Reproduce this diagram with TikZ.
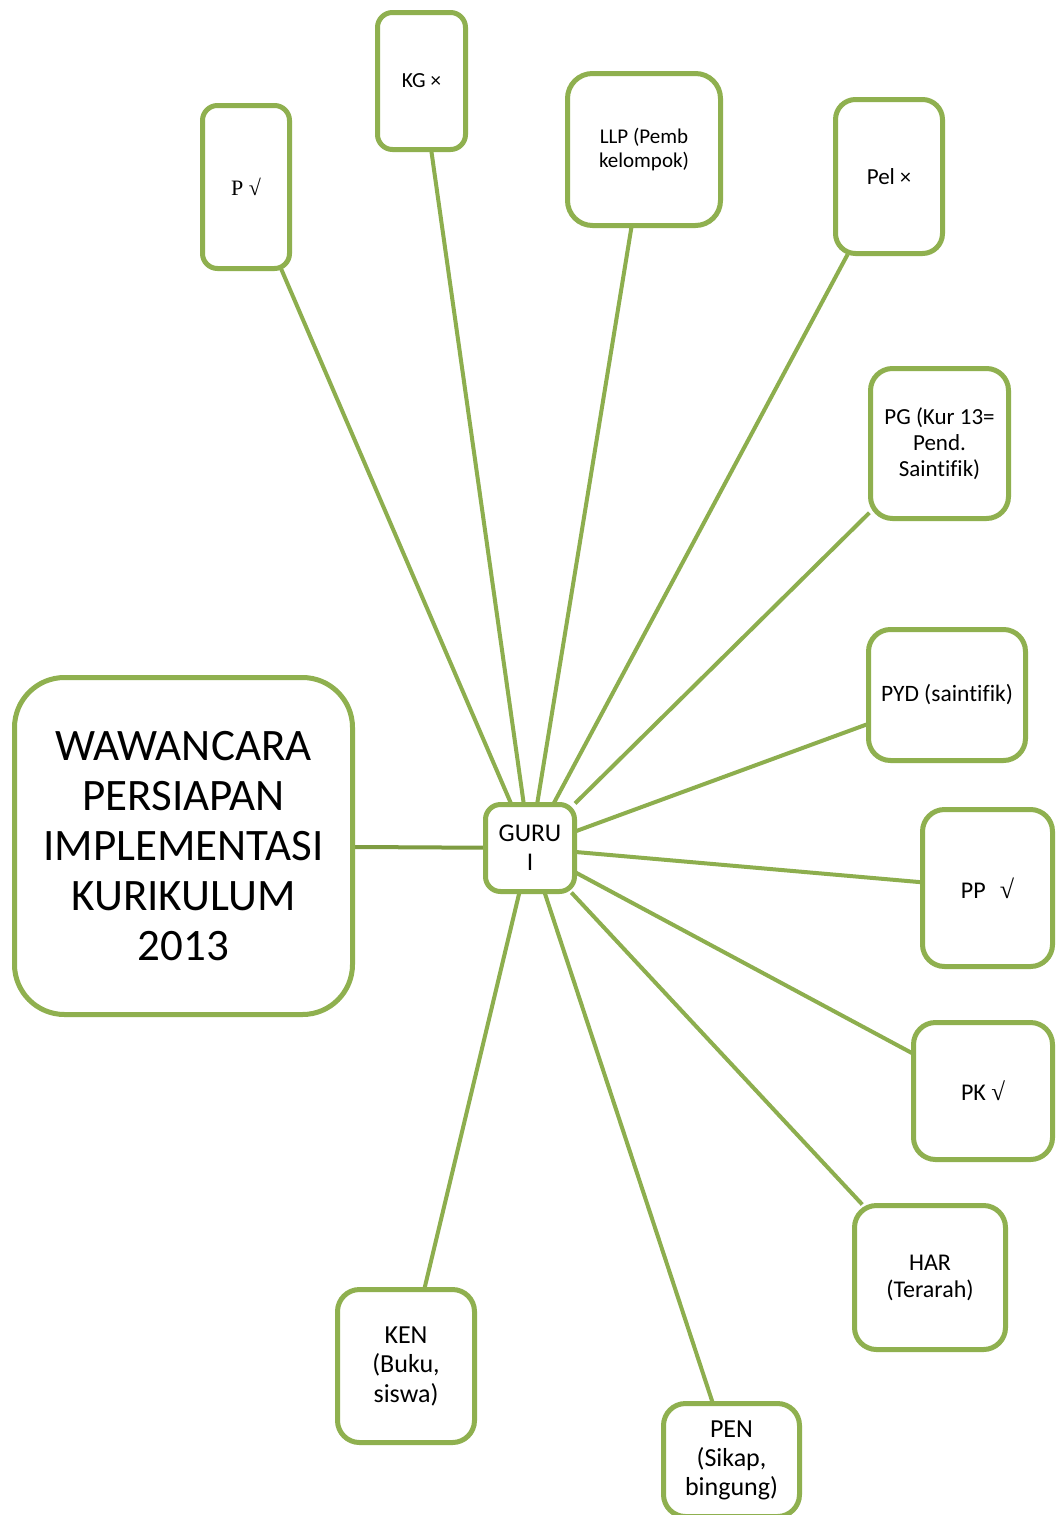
\documentclass[tikz,border=0pt]{standalone}
\usepackage{fontspec}
\setmainfont[RawFeature={-liga;-clig;-calt;-dlig}]{Carlito}
\newfontfamily\serifsym{Liberation Serif}
\newcommand{\nl}{\kern0pt}
\definecolor{boxgreen}{HTML}{8FB04F}
\definecolor{linkgreen}{HTML}{8DAE4E}
\definecolor{darkgreen}{HTML}{7E9C42}
\pgfdeclarelayer{background}
\pgfsetlayers{background,main}
\tikzset{
  mbox/.style={draw=boxgreen, line width=5pt, fill=white, rounded corners=#1,
    align=center, inner sep=0pt, text=black},
  mbox/.default=18pt,
  link/.style={draw=linkgreen, line width=4pt, shorten <=-2pt, shorten >=-2pt},
}
\begin{document}
\begin{tikzpicture}[x=1pt,y=-1pt]
\useasboundingbox (0,0) rectangle (1056,1515);
\clip (0,0) rectangle (1056,1515);
% boxes
\node[mbox=50pt, minimum width=338pt, minimum height=337pt,
  font=\fontsize{45}{50}\selectfont] (title) at (183.5,846)
  {WAWANCARA\\PERSIAPAN\\IMPLEMENTASI\\KURIKULUM\\2013};
\node[mbox=15pt, minimum width=89pt, minimum height=87pt,
  font=\fontsize{25.5}{29}\selectfont] (guru) at (530,848) {GURU\\I};
\node[mbox=15pt, minimum width=87pt, minimum height=163pt,
  font=\serifsym\fontsize{22}{26}\selectfont] (p) at (246,187) {P √};
\node[mbox=15pt, minimum width=88pt, minimum height=137pt,
  font=\fontsize{21.5}{25}\selectfont] (kg) at (421.5,81) {KG {\fontsize{21}{24}\selectfont×}};
\node[mbox=25pt, minimum width=153pt, minimum height=152pt,
  font=\fontsize{21}{23.5}\selectfont] (llp) at (644,149.5) {LLP (Pemb\\kelompok)};
\node[mbox=20pt, minimum width=107pt, minimum height=154pt,
  font=\fontsize{23}{26}\selectfont] (pel) at (889,176.5) {Pel {\fontsize{22}{26}\selectfont×}};
\node[mbox=22pt, minimum width=138pt, minimum height=150pt,
  font=\fontsize{23}{26}\selectfont] (pg) at (939.5,443.5) {PG (Kur 13=\\Pend.\\Saint\nl i\nl f\nl ik)};
\node[mbox=22pt, minimum width=157pt, minimum height=131pt,
  font=\fontsize{23.5}{27}\selectfont] (pyd) at (947,695) {PYD (saint\nl i\nl f\nl ik)};
\node[mbox=22pt, minimum width=130pt, minimum height=157pt,
  font=\fontsize{24}{27}\selectfont] (pp) at (987.5,888) {PP\hspace{14pt}{\serifsym\fontsize{26}{27}\selectfont√}};
\node[mbox=22pt, minimum width=139pt, minimum height=137pt,
  font=\fontsize{24}{27}\selectfont] (pk) at (983,1091) {PK {\serifsym\fontsize{25}{27}\selectfont√}};
\node[mbox=22pt, minimum width=151pt, minimum height=144pt,
  font=\fontsize{24}{27}\selectfont] (har) at (930,1277.5) {HAR\\(Terarah)};
\node[mbox=22pt, minimum width=136pt, minimum height=113pt,
  font=\fontsize{26}{29}\selectfont] (pen) at (731.5,1460) {PEN\\(Sikap,\\bingung)};
\node[mbox=22pt, minimum width=137pt, minimum height=153pt,
  font=\fontsize{26}{29.5}\selectfont] (ken) at (406,1366) {KEN\\(Buku,\\siswa)};
% connectors (under boxes)
\begin{pgfonlayer}{background}
\fill[white] (0,0) rectangle (1056,1515);
\draw[link] (guru) -- (p);
\draw[link] (guru) -- (kg);
\draw[link] (guru) -- (llp);
\draw[link] (guru) -- (pel);
\draw[link] (guru) -- (pg);
\draw[link] (guru) -- (pyd);
\draw[link] (guru) -- (pp);
\draw[link] (guru) -- (pk);
\draw[link] (guru) -- (har);
\draw[link] (guru) -- (pen);
\draw[link] (guru) -- (ken);
\draw[link, draw=darkgreen] (guru) -- (title);
\end{pgfonlayer}
\end{tikzpicture}
\end{document}
